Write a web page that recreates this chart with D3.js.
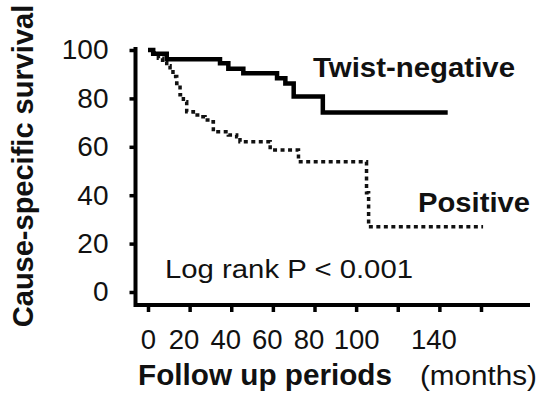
<!DOCTYPE html>
<html>
<head>
<meta charset="utf-8">
<script src="https://cdn.jsdelivr.net/npm/d3@7"></script>
<style>
  html, body { margin: 0; padding: 0; background: #fff; }
  svg { display: block; font-family: "Liberation Sans", Arial, sans-serif; }
</style>
</head>
<body>
<svg id="chart" width="539" height="393"></svg>
<script>
// Kaplan-Meier steps: [months, survival %]
const negativeSteps = [
  [0, 100], [2.5, 98.5], [9, 96.2], [34.6, 94.5], [38.6, 92.3],
  [45.8, 90.4], [62, 88.3], [66, 86.2], [70, 80.8], [84, 74.2], [144, 74.2],
];
const positiveSteps = [
  [0, 100], [3, 98.6], [5, 96.6], [7, 95], [9, 93.5], [10.6, 91], [12, 89],
  [13.8, 86.2], [15.4, 81.5], [17, 78.6], [18.6, 74.5], [21.8, 73.1],
  [25, 72.4], [27.4, 71.1], [29.8, 70.4], [31.4, 66.2], [38.6, 64.9],
  [42.6, 64.2], [44.2, 62.1], [58.7, 58.7], [72.3, 53.8], [105, 41],
  [106, 27], [161, 27],
];
const xTicks = [0, 20, 40, 60, 80, 100, 120, 140, 160];
const xLabels = [0, 20, 40, 60, 80, 100, 140];
const yTicks = [0, 20, 40, 60, 80, 100];

const svg = d3.select('#chart');

// Scales
const x = d3.scaleLinear([0, 160], [148, 481]);
const y = d3.scaleLinear([0, 100], [292, 50]);

const AXIS_X = 135.5;
const AXIS_Y = 305;

// Y axis
const yAxis = svg.append('g')
  .attr('transform', `translate(${AXIS_X},0)`)
  .call(d3.axisLeft(y).tickValues(yTicks).tickSize(6).tickPadding(21));
yAxis.select('.domain').remove();
yAxis.selectAll('line').attr('stroke', '#000').attr('stroke-width', 3.5);
yAxis.selectAll('text')
  .attr('font-size', 28).attr('fill', '#111')
  .attr('font-family', '"Liberation Sans", Arial, sans-serif');

// X axis
const xAxis = svg.append('g')
  .attr('transform', `translate(0,${AXIS_Y})`)
  .call(d3.axisBottom(x).tickValues(xTicks).tickSize(7)
    .tickFormat((d) => (xLabels.includes(d) ? d : '')));
xAxis.select('.domain').remove();
xAxis.selectAll('line').attr('stroke', '#000').attr('stroke-width', 3.5);
xAxis.selectAll('text')
  .attr('font-size', 27.5).attr('fill', '#111')
  .attr('font-family', '"Liberation Sans", Arial, sans-serif')
  .attr('y', 24)
  .attr('dx', (d) => (d === 0 || d === 100 ? 0 : -6));

// Axis lines
svg.append('path')
  .attr('d', `M${AXIS_X},47V${AXIS_Y}H530`)
  .attr('fill', 'none')
  .attr('stroke', '#000')
  .attr('stroke-width', 4);

// Survival curves
const line = d3.line()
  .x((d) => x(d[0]))
  .y((d) => y(d[1]))
  .curve(d3.curveStepAfter);

svg.append('path')
  .datum(positiveSteps)
  .attr('d', line)
  .attr('fill', 'none')
  .attr('stroke', '#111')
  .attr('stroke-width', 3.5)
  .attr('stroke-dasharray', '4,3.5');

svg.append('path')
  .datum(negativeSteps)
  .attr('d', line)
  .attr('fill', 'none')
  .attr('stroke', '#000')
  .attr('stroke-width', 4.5);

// Labels
function label(txt, px, py, size, bold, width) {
  const t = svg.append('text')
    .attr('x', px).attr('y', py)
    .attr('font-size', size)
    .attr('font-weight', bold ? 'bold' : 'normal')
    .attr('fill', '#111')
    .text(txt);
  if (width) t.attr('textLength', width).attr('lengthAdjust', 'spacingAndGlyphs');
  return t;
}

label('Twist-negative', 313, 77, 28, true, 202);
label('Positive', 418, 212, 28, true, 112);
label('Log rank P < 0.001', 165, 278, 26, false, 248);
label('Follow up periods', 138, 385, 29, true, 254);
label('(months)', 420, 385, 27, false, 117);

svg.append('text')
  .attr('transform', 'translate(33,166) rotate(-90)')
  .attr('text-anchor', 'middle')
  .attr('font-size', 29).attr('font-weight', 'bold').attr('fill', '#111')
  .text('Cause-specific survival');
</script>
</body>
</html>
